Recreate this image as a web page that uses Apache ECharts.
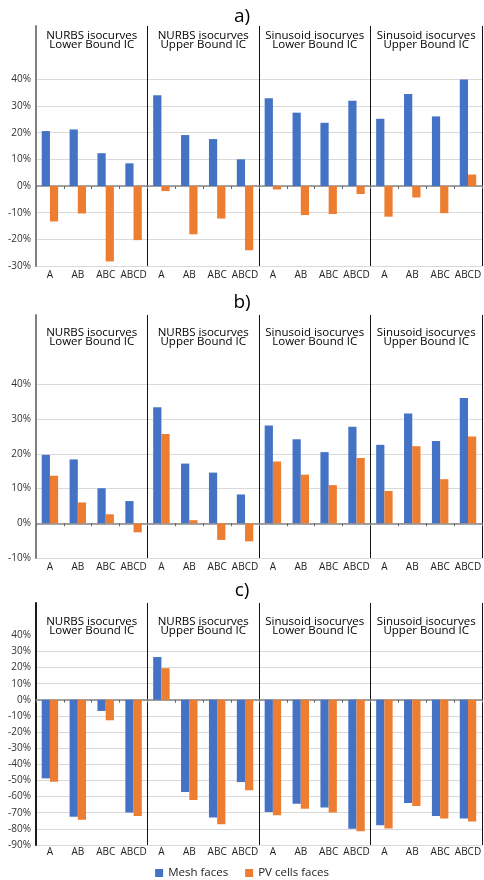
<!DOCTYPE html>
<html><head><meta charset="utf-8">
<script src="https://cdn.jsdelivr.net/npm/echarts@6/dist/echarts.min.js"></script>
<style>html,body{margin:0;padding:0;background:#fff}#c{width:484px;height:880px}</style>
</head><body><div id="c"></div>
<script>
// ---------- data ----------
const categories = ['A','AB','ABC','ABCD','A','AB','ABC','ABCD','A','AB','ABC','ABCD','A','AB','ABC','ABCD'];
const groupNames = ['NURBS isocurves\nLower Bound IC','NURBS isocurves\nUpper Bound IC','Sinusoid isocurves\nLower Bound IC','Sinusoid isocurves\nUpper Bound IC'];
const panelTitles = ['a)','b)','c)'];
const seriesNames = ['Mesh faces','PV cells faces'];

const meshA = [20.6, 21.2, 12.3, 8.5, 34.0, 19.1, 17.6, 10.0, 32.9, 27.5, 23.7, 32.0, 25.2, 34.5, 26.1, 39.9];
const pvA   = [-13.3, -10.3, -28.3, -20.3, -1.9, -18.1, -12.2, -24.1, -1.3, -10.9, -10.5, -3.0, -11.5, -4.3, -10.2, 4.3];
const meshB = [19.7, 18.4, 10.1, 6.4, 33.4, 17.2, 14.6, 8.3, 28.2, 24.2, 20.5, 27.8, 22.6, 31.6, 23.7, 36.1];
const pvB   = [13.7, 6.0, 2.6, -2.6, 25.7, 0.9, -4.8, -5.2, 17.8, 14.0, 11.0, 18.8, 9.3, 22.2, 12.7, 25.0];
const meshC = [-48.7, -72.5, -6.9, -69.8, 26.5, -57.1, -72.9, -51.0, -69.6, -64.4, -66.7, -80.0, -77.7, -64.0, -72.1, -73.5];
const pvC   = [-50.8, -74.4, -12.7, -72.1, 19.6, -62.1, -77.1, -56.0, -71.5, -67.5, -69.8, -81.5, -79.8, -65.8, -73.5, -75.4];

const yMinA = -30, yMinB = -10, yMinC = -90, yMaxAll = 60, labelMax = 40;

// ---------- layout ----------
const FONT = '"Open Sans", "Noto Sans", sans-serif';
const BLUE = '#4472C4', ORANGE = '#ED7D31';
const panels = [
  {title: panelTitles[0], mesh: meshA, pv: pvA, min: yMinA, gridMax: 40, top: 26,  height: 240, titleTop: 2,   groupMargin: 5,  catMargin: 4, yLine: '#808080'},
  {title: panelTitles[1], mesh: meshB, pv: pvB, min: yMinB, gridMax: 40, top: 315, height: 243, titleTop: 288, groupMargin: 13, catMargin: 4, yLine: '#808080'},
  {title: panelTitles[2], mesh: meshC, pv: pvC, min: yMinC, gridMax: 30, top: 603, height: 242, titleTop: 576, groupMargin: 14, catMargin: 2, yLine: '#1a1a1a'}
];

const option = {
  animation: false,
  backgroundColor: '#fff',
  color: [BLUE, ORANGE],
  textStyle: {fontFamily: FONT},
  title: [], grid: [], xAxis: [], yAxis: [], series: [],
  legend: {
    data: seriesNames, top: 862, left: 'center', icon: 'rect',
    itemWidth: 8, itemHeight: 8, itemGap: 17,
    textStyle: {fontFamily: FONT, fontSize: 11.5, color: '#222'}
  }
};

panels.forEach((p, i) => {
  option.title.push({
    text: p.title, left: 'center', top: p.titleTop,
    textStyle: {fontFamily: FONT, fontSize: 19, fontWeight: 'normal', color: '#000'}
  });
  option.grid.push({left: 36, width: 451.5, top: p.top, height: p.height, containLabel: false});
  const gridColors = [];
  for (let v = p.min; v <= yMaxAll; v += 10) gridColors.push(v <= p.gridMax ? '#d9d9d9' : 'rgba(0,0,0,0)');
  // label / separator axis (bottom)
  option.xAxis.push({
    type: 'category', gridIndex: i, data: categories, position: 'bottom',
    axisLine: {show: false, onZero: false}, axisTick: {show: false},
    axisLabel: {interval: 0, fontSize: 10, color: '#222', margin: p.catMargin, fontFamily: FONT},
    splitLine: {show: true, interval: (idx) => idx % 4 === 0, lineStyle: {color: '#111', width: 1}}
  });
  // zero line axis
  option.xAxis.push({
    type: 'category', gridIndex: i, data: categories, position: 'bottom',
    axisLine: {show: true, onZero: true, lineStyle: {color: '#888', width: 1.5}},
    axisTick: {show: true, interval: 0, length: 3, lineStyle: {color: '#666'}},
    axisLabel: {show: false}, splitLine: {show: false}
  });
  // group title axis (top)
  option.xAxis.push({
    type: 'category', gridIndex: i, data: groupNames, position: 'top',
    axisLine: {show: false, onZero: false}, axisTick: {show: false}, splitLine: {show: false},
    axisLabel: {inside: true, interval: 0, margin: p.groupMargin, verticalAlign: 'top',
      fontFamily: FONT, fontSize: 11.5, fontWeight: 500, lineHeight: 9, color: '#000'}
  });
  option.yAxis.push({
    type: 'value', gridIndex: i, min: p.min, max: yMaxAll, interval: 10,
    axisLine: {show: true, lineStyle: {color: p.yLine, width: 2}},
    axisTick: {show: false},
    axisLabel: {fontSize: 10, color: '#333', margin: 5, fontFamily: FONT,
      formatter: (v) => v > labelMax ? '' : v + '%'},
    splitLine: {show: true, lineStyle: {color: gridColors, width: 1}}
  });
  option.series.push({
    type: 'bar', name: seriesNames[0], xAxisIndex: i * 3, yAxisIndex: i, data: p.mesh,
    barGap: '0%', barCategoryGap: '41%', itemStyle: {color: BLUE}
  });
  option.series.push({
    type: 'bar', name: seriesNames[1], xAxisIndex: i * 3, yAxisIndex: i, data: p.pv,
    barGap: '0%', barCategoryGap: '41%', itemStyle: {color: ORANGE}
  });
});

const chart = echarts.init(document.getElementById('c'), null, {renderer: 'canvas'});
chart.setOption(option);
</script>
</body></html>
